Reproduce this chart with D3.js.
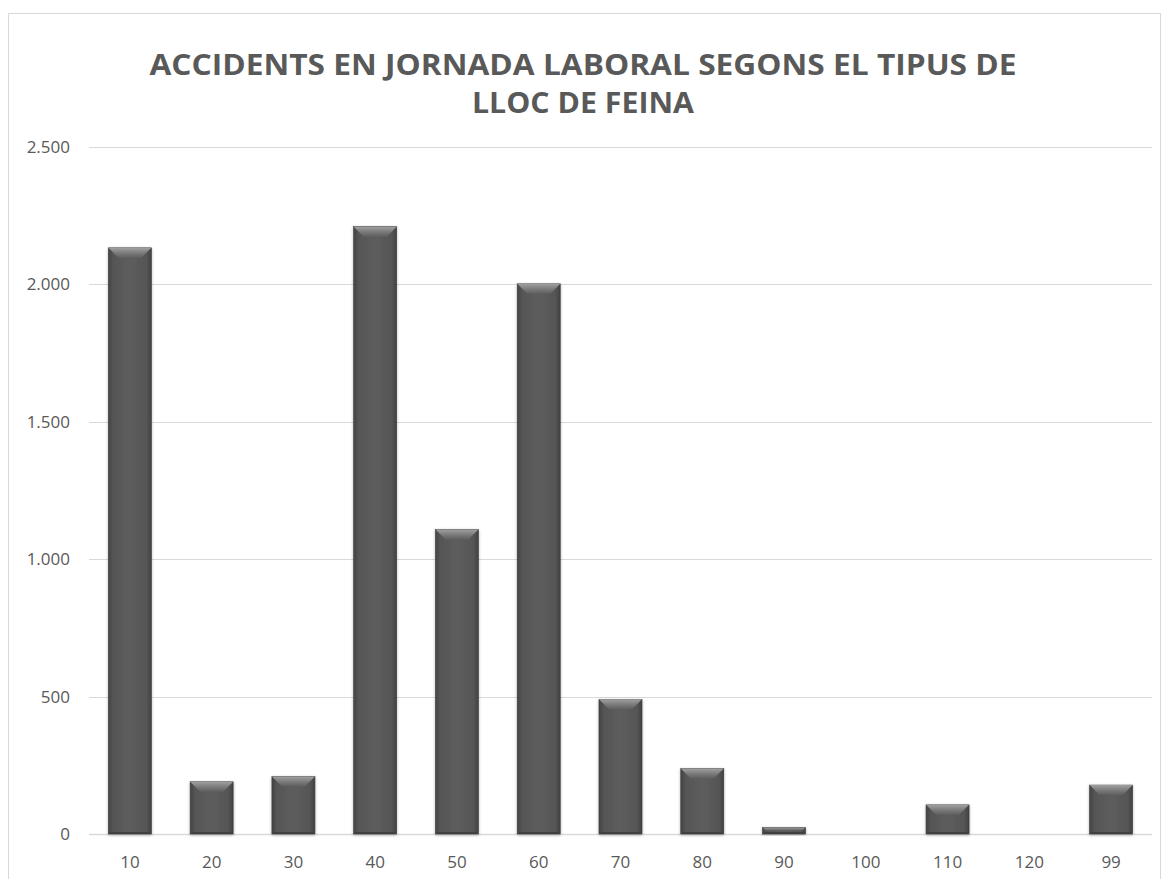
<!DOCTYPE html>
<html>
<head>
<meta charset="utf-8">
<script src="https://cdn.jsdelivr.net/npm/d3@7"></script>
<style>
  html, body { margin: 0; padding: 0; background: #ffffff; }
  svg { display: block; }
</style>
</head>
<body>
<svg id="chart" width="1162" height="879"></svg>
<script>
const categories = ["10", "20", "30", "40", "50", "60", "70", "80", "90", "100", "110", "120", "99"];
const values = [2133, 190, 209, 2210, 1108, 2002, 490, 238, 24, 0, 106, 0, 178];
const yTicks = [0, 500, 1000, 1500, 2000, 2500];
const yTickLabels = ["0", "500", "1.000", "1.500", "2.000", "2.500"];
const titleLines = ["ACCIDENTS EN JORNADA LABORAL SEGONS EL TIPUS DE", "LLOC DE FEINA"];

const svg = d3.select("#chart");
const plot = { left: 89, right: 1152, top: 147, bottom: 834 };
const FONT = "'Open Sans', sans-serif";

const defs = svg.append("defs");
const bodyGrad = defs.append("linearGradient").attr("id", "barBody").attr("x1", "0").attr("x2", "1").attr("y1", "0").attr("y2", "0");
bodyGrad.append("stop").attr("offset", "0").attr("stop-color", "#444444");
bodyGrad.append("stop").attr("offset", "0.12").attr("stop-color", "#565656");
bodyGrad.append("stop").attr("offset", "0.5").attr("stop-color", "#5d5d5d");
bodyGrad.append("stop").attr("offset", "0.88").attr("stop-color", "#565656");
bodyGrad.append("stop").attr("offset", "1").attr("stop-color", "#424242");
const bevelGrad = defs.append("linearGradient").attr("id", "bevelTop").attr("x1", "0").attr("x2", "0").attr("y1", "0").attr("y2", "1");
bevelGrad.append("stop").attr("offset", "0").attr("stop-color", "#a0a0a0");
bevelGrad.append("stop").attr("offset", "0.5").attr("stop-color", "#7c7c7c");
bevelGrad.append("stop").attr("offset", "1").attr("stop-color", "#5e5e5e");
const shadow = defs.append("filter").attr("id", "shadow").attr("x", "-20%").attr("y", "-20%").attr("width", "140%").attr("height", "140%");
shadow.append("feDropShadow").attr("dx", 0).attr("dy", 1).attr("stdDeviation", 1.5).attr("flood-color", "#000").attr("flood-opacity", 0.3);

// chart border
svg.append("rect")
  .attr("x", 8.5).attr("y", 13.5)
  .attr("width", 1152).attr("height", 900)
  .attr("fill", "#ffffff")
  .attr("stroke", "#d9d9d9").attr("stroke-width", 1);

const x = d3.scaleBand().domain(categories).range([plot.left, plot.right]).paddingInner(0.474).paddingOuter(0.237);
const y = d3.scaleLinear().domain([0, 2500]).range([plot.bottom, plot.top]);

// gridlines
svg.append("g").selectAll("line").data(yTicks).join("line")
  .attr("x1", plot.left).attr("x2", plot.right)
  .attr("y1", d => Math.round(y(d)) + 0.5).attr("y2", d => Math.round(y(d)) + 0.5)
  .attr("stroke", "#d9d9d9").attr("stroke-width", d => d === 0 ? 1.5 : 1);

// y axis labels
const yAxis = d3.axisLeft(y).tickValues(yTicks).tickSize(0).tickPadding(0)
  .tickFormat((d, i) => yTickLabels[i]);
const gy = svg.append("g").attr("transform", `translate(70,0)`).call(yAxis);
gy.select(".domain").remove();
gy.selectAll("text")
  .attr("font-family", FONT)
  .attr("font-size", 17).attr("fill", "#595959");

// x axis labels
const xAxis = d3.axisBottom(x).tickSize(0).tickPadding(0);
const gx = svg.append("g").attr("transform", `translate(0,${plot.bottom})`).call(xAxis);
gx.select(".domain").remove();
gx.selectAll("text")
  .attr("dy", null).attr("y", 34)
  .attr("font-family", FONT)
  .attr("font-size", 17).attr("fill", "#595959");

// bars
const data = categories.map((c, i) => ({ c, v: values[i] })).filter(d => d.v > 0);
const bars = svg.append("g").selectAll("g").data(data).join("g").attr("filter", "url(#shadow)");
bars.append("rect")
  .attr("x", d => x(d.c)).attr("y", d => y(d.v))
  .attr("width", x.bandwidth()).attr("height", d => y(0) - y(d.v))
  .attr("fill", "url(#barBody)")
  .attr("stroke", "#3a3a3a").attr("stroke-width", 0.6);
bars.append("path")
  .attr("d", d => {
    const x0 = x(d.c), x1 = x0 + x.bandwidth(), t = y(d.v);
    const h = Math.min(10, (y(0) - t) / 2);
    return `M${x0},${t}L${x1},${t}L${x1 - h},${t + h}L${x0 + h},${t + h}Z`;
  })
  .attr("fill", "url(#bevelTop)");
bars.append("path")
  .attr("d", d => {
    const x0 = x(d.c), x1 = x0 + x.bandwidth(), t = y(d.v), b = y(0);
    const h = Math.min(2, (b - t) / 3);
    return `M${x0},${b}L${x1},${b}L${x1 - h},${b - h}L${x0 + h},${b - h}Z`;
  })
  .attr("fill", "#404040");

// title
const title = svg.append("g").attr("font-family", FONT)
  .attr("font-weight", "bold").attr("fill", "#595959").attr("text-anchor", "middle");
const titleW = [867, 222];
titleLines.forEach((t, i) => {
  title.append("text")
    .attr("x", 583).attr("y", 75 + i * 38)
    .attr("font-size", 28)
    .attr("textLength", titleW[i]).attr("lengthAdjust", "spacingAndGlyphs")
    .text(t);
});
</script>
</body>
</html>
